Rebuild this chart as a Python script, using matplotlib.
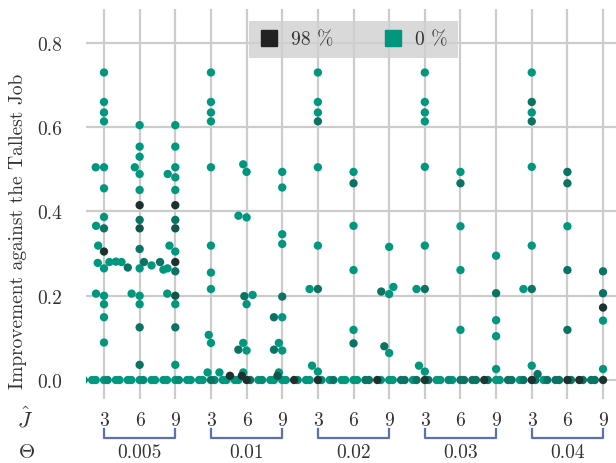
import numpy as np
import matplotlib
matplotlib.use('Agg')
import matplotlib.pyplot as plt
from matplotlib.colors import LinearSegmentedColormap
from matplotlib.lines import Line2D
import matplotlib.transforms as mtransforms

# ============================================
#   data
#   (J-hat, improvement, share in %)
# ============================================
thetas = ['0.005', '0.01', '0.02', '0.03', '0.04']
j_ticks = [3, 6, 9]

pts_005 = [
    (3, .730, 0), (3, .660, 0), (3, .635, 0), (3, .614, 0), (3, .505, 0), (3, .505, 0),
    (3, .455, 0), (3, .387, 0), (3, .366, 0), (3, .360, 30), (3, .319, 0), (3, .305, 85),
    (3, .280, 0), (3, .278, 0), (3, .265, 0), (3, .205, 0), (3, .200, 0), (3, .180, 0),
    (3, .149, 0), (3, .089, 0),
    (4, .281, 0), (5, .280, 0), (5, .267, 30),
    (6, .605, 0), (6, .554, 0), (6, .530, 0), (6, .505, 0), (6, .489, 0), (6, .451, 0),
    (6, .415, 85), (6, .380, 30), (6, .360, 55), (6, .311, 30), (6, .265, 0), (6, .205, 0),
    (6, .200, 0), (6, .180, 0), (6, .125, 30), (6, .036, 30),
    (7, .272, 0), (7, .280, 30), (8, .280, 30), (8, .262, 0),
    (9, .605, 0), (9, .554, 0), (9, .505, 0), (9, .489, 0), (9, .481, 0), (9, .451, 0),
    (9, .415, 85), (9, .380, 30), (9, .360, 55), (9, .319, 0), (9, .305, 0), (9, .280, 85),
    (9, .265, 0), (9, .258, 30), (9, .205, 0), (9, .200, 55), (9, .180, 0), (9, .125, 30),
    (9, .036, 0),
]
pts_01 = [
    (3, .730, 0), (3, .660, 0), (3, .635, 0), (3, .614, 0), (3, .505, 0), (3, .319, 0),
    (3, .255, 0), (3, .216, 0), (3, .107, 0), (3, .088, 0), (3, .018, 0),
    (4, .018, 0), (4, .010, 85), (5, .010, 85),
    (6, .512, 0), (6, .494, 0), (6, .390, 0), (6, .386, 0), (6, .199, 30), (6, .202, 0),
    (6, .180, 0), (6, .088, 0), (6, .072, 30), (6, .070, 0), (6, .018, 0),
    (8, .010, 55),
    (9, .494, 0), (9, .457, 0), (9, .346, 0), (9, .323, 0), (9, .198, 30), (9, .149, 0),
    (9, .149, 30), (9, .088, 0), (9, .072, 30), (9, .070, 0), (9, .018, 0),
]
pts_02 = [
    (3, .730, 0), (3, .660, 0), (3, .635, 0), (3, .614, 30), (3, .505, 0), (3, .319, 0),
    (3, .216, 30), (3, .216, 0), (3, .034, 0), (3, .020, 0),
    (6, .494, 0), (6, .467, 30), (6, .366, 0), (6, .261, 0), (6, .119, 0), (6, .087, 30),
    (9, .316, 0), (9, .221, 0), (9, .210, 30), (9, .204, 0), (9, .080, 30), (9, .064, 0),
]
pts_03 = [
    (3, .730, 0), (3, .660, 0), (3, .635, 0), (3, .614, 0), (3, .506, 0), (3, .319, 0),
    (3, .216, 30), (3, .216, 0), (3, .034, 0), (3, .020, 0),
    (6, .494, 0), (6, .467, 30), (6, .365, 0), (6, .261, 0), (6, .119, 0),
    (9, .295, 0), (9, .206, 30), (9, .142, 0), (9, .104, 0), (9, .026, 0),
]
pts_04 = [
    (3, .730, 0), (3, .660, 30), (3, .635, 0), (3, .614, 30), (3, .506, 0), (3, .319, 0),
    (3, .216, 30), (3, .216, 0), (3, .034, 0), (3, .014, 30),
    (6, .494, 30), (6, .467, 30), (6, .365, 0), (6, .261, 30), (6, .119, 30),
    (9, .258, 30), (9, .206, 30), (9, .172, 85), (9, .141, 0), (9, .026, 0),
]
# zero improvements: two runs per J-hat = 1..9, share in %
zero_005 = [0, 0, 0, 10, 0, 0, 0, 10, 0, 0, 0, 0, 0, 10, 0, 0, 0, 0]
zero_01 = [0, 10, 0, 0, 30, 0, 0, 10, 0, 0, 85, 0, 0, 30, 0, 10, 0, 0]
zero_02 = [85, 0, 0, 10, 85, 0, 0, 10, 0, 30, 0, 0, 30, 0, 85, 30, 0, 0]
zero_03 = [30, 0, 0, 30, 80, 30, 0, 30, 10, 0, 30, 0, 30, 30, 80, 30, 0, 30]
zero_04 = [30, 0, 0, 30, 85, 30, 0, 30, 30, 30, 85, 30, 85, 30, 30, 30, 85, 30]

groups = [pts_005, pts_01, pts_02, pts_03, pts_04]
zeros = [zero_005, zero_01, zero_02, zero_03, zero_04]

# ============================================
#   style
# ============================================
plt.rcParams['font.family'] = 'cmr10'
plt.rcParams['mathtext.fontset'] = 'cm'
plt.rcParams['axes.formatter.use_mathtext'] = True

teal = '#00977f'
dark = '#222222'
cmap = LinearSegmentedColormap.from_list('share', [teal, dark])
grid_c = '#cccccc'
brace_c = '#5a72b5'
txt_c = '#333333'

W, H = 616, 464
fig = plt.figure(figsize=(W / 100, H / 100), dpi=100)
ax = fig.add_axes([86 / W, (H - 400) / H, 530 / W, 390 / H])

xmin, xmax = 1.485, 46.09
ymin, ymax = -0.0451, 0.8807
ax.set_xlim(xmin, xmax)
ax.set_ylim(ymin, ymax)

px_x = 530 / (xmax - xmin)
px_y = 390 / (ymax - ymin)
d = 8.3  # marker diameter in px


def swarm(ys):
    # simple beeswarm, offsets in px -> data units
    ys = np.asarray(ys) * px_y
    order = np.argsort(ys, kind='stable')
    placed = []
    off = np.zeros(len(ys))
    for i in order:
        y = ys[i]
        nb = [(px, py) for px, py in placed if abs(py - y) < d]
        cands = [0.0]
        for px, py in nb:
            dx = np.sqrt(d * d - (py - y) ** 2)
            cands += [px - dx, px + dx]
        cands.sort(key=lambda c: (abs(c), c))
        for c in cands:
            if all((c - px) ** 2 + (y - py) ** 2 >= d * d - 1e-6 for px, py in nb):
                off[i] = c
                break
        placed.append((off[i], y))
    return off / px_x


xs, ys, hs = [], [], []
for g, (pts, zh) in enumerate(zip(groups, zeros)):
    for j in range(1, 10):
        cat = [(v, h) for jj, v, h in pts if jj == j]
        cat += [(0.0, h) for h in zh[2 * (j - 1):2 * j]]
        offs = swarm([c[0] for c in cat])
        for (v, h), o in zip(cat, offs):
            xs.append(9 * g + j + o)
            ys.append(v)
            hs.append(h)

xs, ys, hs = np.array(xs), np.array(ys), np.array(hs)
order = np.argsort(hs, kind='stable')
ax.scatter(xs[order], ys[order], c=hs[order], cmap=cmap, vmin=0, vmax=98,
           s=36, linewidths=0, zorder=3)

# grid / axes
xt = [9 * g + j for g in range(5) for j in j_ticks]
ax.set_xticks(xt)
ax.set_xticklabels([str(j) for g in range(5) for j in j_ticks])
yt = [0.0, 0.2, 0.4, 0.6, 0.8]
ax.set_yticks(yt)
ax.set_yticklabels([f'{v:.1f}' for v in yt])
ax.grid(True, color=grid_c, linewidth=1.6, zorder=0)
ax.set_axisbelow(True)
for s in ax.spines.values():
    s.set_visible(False)
ax.tick_params(length=0, labelsize=14, colors=txt_c)
ax.tick_params(axis='y', pad=17)
ax.tick_params(axis='x', pad=9)

# J-hat and Theta row labels
fig.text(25 / W, 1 - 419 / H, r'$\hat{J}$', fontsize=16, ha='center', va='center', color=txt_c)
fig.text(27 / W, 1 - 453 / H, r'$\Theta$', fontsize=15, ha='center', va='center', color=txt_c)

tr = mtransforms.blended_transform_factory(ax.transData, fig.transFigure)
for g, th in enumerate(thetas):
    a, b = 9 * g + 3, 9 * g + 9
    y0, y1 = 1 - 439 / H, 1 - 430 / H
    ax.add_line(Line2D([a, a, b, b], [y1, y0, y0, y1], transform=tr, color=brace_c,
                       linewidth=1.6, clip_on=False))
    ax.text((a + b) / 2, 1 - 453 / H, th, transform=tr, ha='center', va='center',
            fontsize=14, color=txt_c)

fig.text(18 / W, 1 - 231 / H, 'Improvement against the Tallest Job', rotation=90,
         ha='center', va='center', fontsize=14, color=txt_c)

# legend
handles = [Line2D([], [], marker='s', linestyle='', markersize=12, color=dark),
           Line2D([], [], marker='s', linestyle='', markersize=12, color=teal)]
leg = fig.legend(handles, ['98 %', '0 %'], ncol=2, loc='upper center',
                 bbox_to_anchor=(353.5 / W, 1 - 22 / H), borderaxespad=0,
                 fontsize=14, frameon=True, fancybox=False, facecolor='#d0d0d0',
                 framealpha=0.8, edgecolor='none', handlelength=1.0,
                 handletextpad=0.65, columnspacing=2.55, borderpad=0.5)
for t in leg.get_texts():
    t.set_color(txt_c)

fig.savefig('out.png', dpi=100)
